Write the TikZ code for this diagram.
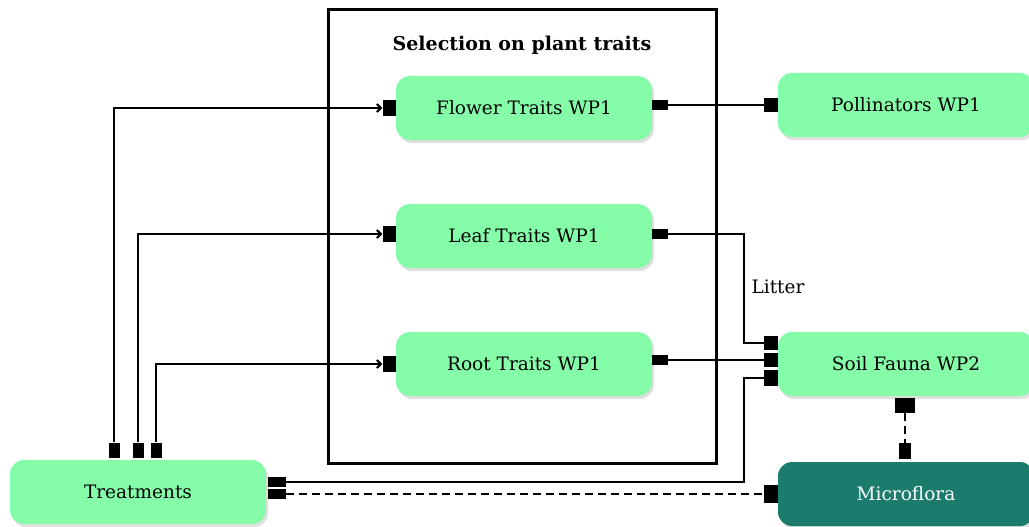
\documentclass[tikz,border=0pt]{standalone}
\usepackage{fontspec}
\setmainfont{DejaVu Serif}
\usetikzlibrary{shadows,arrows.meta}
\definecolor{wpgreen}{HTML}{84FCA8}
\definecolor{wpteal}{HTML}{1B7B6D}
\tikzset{
  wp/.style={rounded corners=14pt, fill=wpgreen, minimum width=256pt, minimum height=64pt,
    font=\fontsize{18.5}{22}\selectfont,
    drop shadow={opacity=0.25, shadow xshift=2pt, shadow yshift=-3pt}},
  portbox/.style={fill=black, inner sep=0pt, minimum width=#1},
  link/.style={line width=2pt},
}
\begin{document}
\begin{tikzpicture}[x=1pt,y=-1pt]
  \useasboundingbox (0,0) rectangle (1029,527);
  % plant traits frame
  \node[draw, line width=3pt, minimum width=388pt, minimum height=453pt] (frame) at (522,236.5) {};
  \node[font=\fontsize{19}{22}\selectfont\bfseries] (title) at (522,45) {Selection on plant traits};
  \node[wp] (flower) at (524,108) {Flower Traits WP1};
  \node[wp] (leaf) at (524,236) {Leaf Traits WP1};
  \node[wp] (root) at (524,364) {Root Traits WP1};
  \node[wp] (poll) at (906,105) {Pollinators WP1};
  \node[wp] (fauna) at (906,364) {Soil Fauna WP2};
  \node[wp, fill=wpteal, text=white] (micro) at (906,494) {Microflora};
  \node[wp] (treat) at (138,492) {Treatments};
  \node[font=\fontsize{18.5}{22}\selectfont] (litter) at (778,287) {Litter};
  % ports
  \node[portbox=11pt, minimum height=15pt] (t1) at (114,450) {};
  \node[portbox=11pt, minimum height=15pt] (t2) at (138,450) {};
  \node[portbox=11pt, minimum height=15pt] (t3) at (156,450) {};
  \node[portbox=18pt, minimum height=10pt] (t4) at (277,482) {};
  \node[portbox=18pt, minimum height=10pt] (t5) at (277,494) {};
  \node[portbox=13pt, minimum height=16pt] (fin) at (389,108) {};
  \node[portbox=13pt, minimum height=16pt] (lin) at (389,234) {};
  \node[portbox=13pt, minimum height=16pt] (rin) at (389,364) {};
  \node[portbox=16pt, minimum height=10pt] (fout) at (660,105) {};
  \node[portbox=16pt, minimum height=10pt] (lout) at (660,234) {};
  \node[portbox=16pt, minimum height=10pt] (rout) at (660,360) {};
  \node[portbox=14pt, minimum height=14pt] (pin) at (771,105) {};
  \node[portbox=14pt, minimum height=14pt] (s1) at (771,343) {};
  \node[portbox=14pt, minimum height=14pt] (s2) at (771,360) {};
  \node[portbox=14pt, minimum height=16pt] (s3) at (771,378) {};
  \node[portbox=20pt, minimum height=15pt] (s4) at (905,405) {};
  \node[portbox=14pt, minimum height=18pt] (m1) at (771,494) {};
  \node[portbox=12pt, minimum height=16pt] (m2) at (905,451) {};
  % connectors
  \draw[link,-{Straight Barb[length=4pt]}] (t1.north) |- (fin.west);
  \draw[link,-{Straight Barb[length=4pt]}] (t2.north) |- (lin.west);
  \draw[link,-{Straight Barb[length=4pt]}] (t3.north) |- (rin.west);
  \draw[link] (fout.east) -- (pin.west);
  \draw[link] (lout.east) -- ++(76,0) |- (s1.west);
  \draw[link] (rout.east) -- (s2.west);
  \draw[link] (s3.west) -- ++(-20,0) |- (t4.east);
  \draw[link, dashed, dash pattern=on 8pt off 5pt] (t5.east) -- (m1.west);
  \draw[link, dashed, dash pattern=on 8pt off 5pt] (s4.south) -- (m2.north);
\end{tikzpicture}
\end{document}
